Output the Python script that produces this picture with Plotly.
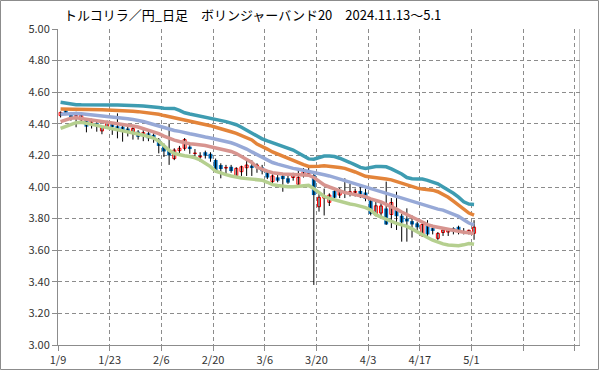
import plotly.graph_objects as go

title_text = "トルコリラ／円_日足　ボリンジャーバンド20　2024.11.13～5.1"
tick_labels = ["1/9", "1/23", "2/6", "2/20", "3/6", "3/20", "4/3", "4/17", "5/1", "", ""]
tick_step = 10
n_slots = 101
y_ticks = [3.0, 3.2, 3.4, 3.6, 3.8, 4.0, 4.2, 4.4, 4.6, 4.8, 5.0]

opens = [4.452, 4.486, 4.468, 4.448, 4.425, 4.424, 4.410, 4.405, 4.355, 4.382,
         4.400, 4.385, 4.382, 4.370, 4.348, 4.350, 4.327, 4.340, 4.330, 4.300,
         4.265, 4.235, 4.180, 4.230, 4.245, 4.255, 4.212, 4.190, 4.220, 4.210,
         4.171, 4.139, 4.120, 4.128, 4.072, 4.097, 4.122, 4.135, 4.127, 4.125,
         4.093, 4.034, 4.061, 4.070, 4.055, 4.060, 4.017, 4.072, 4.085, 4.076,
         3.875, 3.930, 3.903, 3.975, 3.949, 3.960, 3.960, 3.966, 3.975, 3.965,
         3.915, 3.822, 3.835, 3.864, 3.826, 3.860, 3.818, 3.800, 3.784, 3.770,
         3.691, 3.765, 3.740, 3.675, 3.712, 3.715, 3.740, 3.748, 3.716, 3.712,
         3.707]
highs = [4.478, 4.492, 4.475, 4.476, 4.460, 4.430, 4.432, 4.412, 4.385, 4.420,
         4.410, 4.466, 4.390, 4.380, 4.390, 4.360, 4.360, 4.350, 4.340, 4.310,
         4.275, 4.400, 4.245, 4.260, 4.310, 4.280, 4.240, 4.220, 4.230, 4.220,
         4.180, 4.150, 4.140, 4.140, 4.125, 4.135, 4.170, 4.170, 4.150, 4.140,
         4.100, 4.080, 4.080, 4.080, 4.085, 4.090, 4.120, 4.120, 4.120, 4.085,
         3.960, 3.990, 3.960, 3.990, 3.995, 4.055, 4.020, 3.990, 4.000, 3.990,
         3.930, 3.920, 3.900, 4.034, 3.930, 3.970, 3.830, 3.865, 3.820, 3.780,
         3.770, 3.790, 3.760, 3.715, 3.740, 3.740, 3.745, 3.755, 3.740, 3.730,
         3.790]
lows = [4.440, 4.455, 4.420, 4.378, 4.405, 4.346, 4.370, 4.350, 4.334, 4.370,
        4.330, 4.308, 4.287, 4.320, 4.300, 4.300, 4.290, 4.290, 4.280, 4.213,
        4.190, 4.140, 4.170, 4.200, 4.230, 4.210, 4.190, 4.160, 4.180, 4.160,
        4.090, 4.055, 4.080, 4.090, 4.060, 4.070, 4.070, 4.070, 4.090, 4.080,
        4.050, 4.020, 4.030, 3.970, 4.020, 4.040, 4.010, 4.060, 4.070, 3.380,
        3.844, 3.820, 3.880, 3.920, 3.930, 3.930, 3.940, 3.940, 3.930, 3.910,
        3.820, 3.815, 3.810, 3.760, 3.740, 3.728, 3.654, 3.654, 3.680, 3.720,
        3.685, 3.680, 3.700, 3.665, 3.690, 3.690, 3.700, 3.700, 3.700, 3.700,
        3.666]
closes = [4.472, 4.466, 4.440, 4.452, 4.455, 4.382, 4.424, 4.385, 4.378, 4.413,
          4.380, 4.360, 4.350, 4.345, 4.370, 4.318, 4.344, 4.308, 4.304, 4.260,
          4.225, 4.200, 4.234, 4.245, 4.300, 4.240, 4.215, 4.194, 4.198, 4.180,
          4.100, 4.114, 4.124, 4.101, 4.118, 4.128, 4.139, 4.120, 4.139, 4.100,
          4.060, 4.070, 4.040, 4.050, 4.028, 4.080, 4.061, 4.097, 4.095, 3.949,
          3.935, 3.940, 3.949, 3.932, 3.975, 3.966, 3.970, 3.972, 3.955, 3.925,
          3.830, 3.881, 3.880, 3.763, 3.902, 3.815, 3.776, 3.782, 3.763, 3.745,
          3.763, 3.700, 3.722, 3.706, 3.728, 3.735, 3.718, 3.722, 3.719, 3.726,
          3.746]

band_plus2 = [4.536, 4.530, 4.524, 4.521, 4.520, 4.519, 4.519, 4.519, 4.519, 4.519,
              4.519, 4.519, 4.519, 4.518, 4.516, 4.515, 4.513, 4.511, 4.508, 4.503,
              4.499, 4.497, 4.497, 4.485, 4.470, 4.462, 4.455, 4.449, 4.442, 4.436,
              4.430, 4.425, 4.414, 4.404, 4.394, 4.378, 4.360, 4.342, 4.320, 4.305,
              4.292, 4.280, 4.272, 4.260, 4.248, 4.234, 4.215, 4.196, 4.178, 4.176,
              4.186, 4.196, 4.196, 4.193, 4.182, 4.170, 4.155, 4.140, 4.124, 4.118,
              4.126, 4.129, 4.129, 4.128, 4.115, 4.100, 4.082, 4.060, 4.052, 4.051,
              4.050, 4.042, 4.033, 4.020, 4.000, 3.982, 3.960, 3.936, 3.906, 3.892,
              3.890]
band_plus1 = [4.494, 4.494, 4.494, 4.494, 4.494, 4.494, 4.493, 4.491, 4.489, 4.488,
              4.487, 4.487, 4.485, 4.482, 4.479, 4.477, 4.474, 4.470, 4.466, 4.460,
              4.452, 4.445, 4.438, 4.431, 4.425, 4.418, 4.412, 4.406, 4.398, 4.388,
              4.378, 4.370, 4.360, 4.350, 4.340, 4.326, 4.312, 4.298, 4.272, 4.258,
              4.240, 4.222, 4.208, 4.195, 4.182, 4.170, 4.156, 4.142, 4.130, 4.128,
              4.131, 4.135, 4.133, 4.129, 4.124, 4.118, 4.108, 4.095, 4.082, 4.068,
              4.063, 4.060, 4.056, 4.050, 4.045, 4.035, 4.020, 4.010, 4.001, 3.993,
              3.988, 3.984, 3.980, 3.970, 3.955, 3.935, 3.910, 3.884, 3.860, 3.835,
              3.822]
band_ma = [4.460, 4.463, 4.466, 4.465, 4.463, 4.460, 4.456, 4.451, 4.447, 4.444,
           4.442, 4.440, 4.437, 4.432, 4.427, 4.422, 4.415, 4.405, 4.395, 4.388,
           4.378, 4.366, 4.358, 4.352, 4.343, 4.337, 4.331, 4.322, 4.316, 4.310,
           4.303, 4.296, 4.288, 4.280, 4.268, 4.256, 4.240, 4.222, 4.205, 4.188,
           4.172, 4.155, 4.145, 4.135, 4.125, 4.118, 4.112, 4.104, 4.097, 4.088,
           4.082, 4.077, 4.070, 4.060, 4.048, 4.038, 4.028, 4.018, 4.008, 3.996,
           3.988, 3.975, 3.966, 3.959, 3.950, 3.940, 3.930, 3.920, 3.910, 3.898,
           3.888, 3.878, 3.868, 3.860, 3.854, 3.842, 3.830, 3.814, 3.793, 3.772,
           3.760]
band_minus1 = [4.414, 4.425, 4.435, 4.438, 4.435, 4.430, 4.424, 4.419, 4.415, 4.411,
               4.407, 4.403, 4.398, 4.392, 4.386, 4.380, 4.370, 4.360, 4.350, 4.338,
               4.322, 4.308, 4.297, 4.288, 4.279, 4.274, 4.270, 4.267, 4.262, 4.255,
               4.248, 4.243, 4.235, 4.225, 4.212, 4.195, 4.175, 4.155, 4.125, 4.110,
               4.100, 4.090, 4.085, 4.082, 4.081, 4.080, 4.080, 4.080, 4.075, 4.060,
               4.035, 4.013, 4.000, 3.988, 3.975, 3.965, 3.958, 3.951, 3.945, 3.938,
               3.925, 3.917, 3.905, 3.890, 3.877, 3.860, 3.842, 3.825, 3.810, 3.793,
               3.775, 3.762, 3.752, 3.745, 3.738, 3.732, 3.726, 3.719, 3.714, 3.710,
               3.706]
band_minus2 = [4.371, 4.385, 4.398, 4.407, 4.410, 4.405, 4.398, 4.390, 4.382, 4.376,
               4.370, 4.364, 4.358, 4.350, 4.342, 4.335, 4.328, 4.320, 4.310, 4.290,
               4.262, 4.232, 4.212, 4.203, 4.198, 4.193, 4.185, 4.171, 4.150, 4.129,
               4.100, 4.087, 4.078, 4.070, 4.062, 4.057, 4.053, 4.050, 4.045, 4.043,
               4.030, 4.015, 4.010, 4.005, 4.002, 4.001, 4.005, 4.010, 4.010, 3.990,
               3.962, 3.940, 3.928, 3.918, 3.907, 3.897, 3.892, 3.887, 3.880, 3.870,
               3.855, 3.825, 3.810, 3.795, 3.782, 3.770, 3.760, 3.751, 3.735, 3.715,
               3.695, 3.680, 3.663, 3.650, 3.640, 3.633, 3.630, 3.628, 3.634, 3.642,
               3.637]

# ---- build ----
n = len(opens)
xs = [i + 0.5 for i in range(n)]

wick_x, wick_y = [], []
for x, lo, hi in zip(xs, lows, highs):
    wick_x += [x, x, None]
    wick_y += [lo, hi, None]

up_x, up_base, up_h = [], [], []
dn_x, dn_base, dn_h = [], [], []
for x, o, c in zip(xs, opens, closes):
    h = max(abs(c - o), 0.002)
    if c >= o:
        up_x.append(x); up_base.append(min(o, c)); up_h.append(h)
    else:
        dn_x.append(x); dn_base.append(min(o, c)); dn_h.append(h)

grid_col = "#8c8c8c"
font_fam = "Noto Sans CJK JP"

fig = go.Figure()
fig.add_trace(go.Scatter(x=wick_x, y=wick_y, mode="lines",
                         line=dict(color="#000000", width=1), hoverinfo="skip"))
fig.add_trace(go.Bar(x=dn_x, y=dn_h, base=dn_base, width=0.75,
                     marker=dict(color="#0070C0", line=dict(width=0))))
fig.add_trace(go.Bar(x=up_x, y=up_h, base=up_base, width=0.58,
                     marker=dict(color="#FFFFFF", line=dict(color="#FF0000", width=1))))

band_styles = [
    (band_minus2, "#B5CF8F"),
    (band_minus1, "#D7948F"),
    (band_ma, "#97A9D7"),
    (band_plus1, "#E3843A"),
    (band_plus2, "#3E9CB1"),
]
for vals, col in band_styles:
    fig.add_trace(go.Scatter(x=xs, y=vals, mode="lines",
                             line=dict(color=col, width=3.5)))

W, H = 599, 370
ml, mr, mt, mb = 58, 19, 29, 25
pw, ph = W - ml - mr, H - mt - mb

fig.update_layout(
    width=W, height=H,
    margin=dict(l=ml, r=mr, t=mt, b=mb, pad=0, autoexpand=False),
    paper_bgcolor="white", plot_bgcolor="white",
    showlegend=False, barmode="overlay", hovermode=False,
    font=dict(family=font_fam, size=11, color="#333333"),
    xaxis=dict(range=[0, n_slots], tickmode="array",
               tickvals=[i * tick_step for i in range(len(tick_labels))],
               ticktext=tick_labels, showgrid=True, gridcolor=grid_col,
               griddash="4px,3px", gridwidth=1, showline=True, linecolor=grid_col,
               linewidth=1, ticks="outside", ticklen=5, tickcolor=grid_col,
               zeroline=False, fixedrange=True, automargin=False),
    yaxis=dict(range=[3.0, 5.0], tickmode="array", tickvals=y_ticks,
               ticktext=[f"{v:.2f}" for v in y_ticks], showgrid=True,
               gridcolor=grid_col, griddash="4px,3px", gridwidth=1,
               showline=True, linecolor=grid_col, linewidth=1, ticks="outside",
               ticklen=5, tickcolor=grid_col, zeroline=False, fixedrange=True,
               automargin=False),
)

# right border of plot area
fig.add_shape(type="line", xref="x", yref="paper", x0=n_slots, x1=n_slots, y0=0, y1=1,
              line=dict(color=grid_col, width=1))
# chart area border
fig.add_shape(type="rect", xref="paper", yref="paper",
              x0=-(ml - 0.5) / pw, x1=1 + (mr - 0.5) / pw,
              y0=-(mb - 0.5) / ph, y1=1 + (mt - 0.5) / ph,
              line=dict(color=grid_col, width=1), fillcolor="rgba(0,0,0,0)")

fig.add_annotation(text=title_text, xref="paper", yref="paper",
                   x=(62 - ml) / pw, y=1 + (mt - 15) / ph, xanchor="left", yanchor="middle",
                   showarrow=False, font=dict(family=font_fam, size=13, color="#000000"))

fig.write_html("out.html", config={"displayModeBar": False, "staticPlot": True},
               post_script="document.body.style.margin='0';document.body.style.overflow='hidden';")
